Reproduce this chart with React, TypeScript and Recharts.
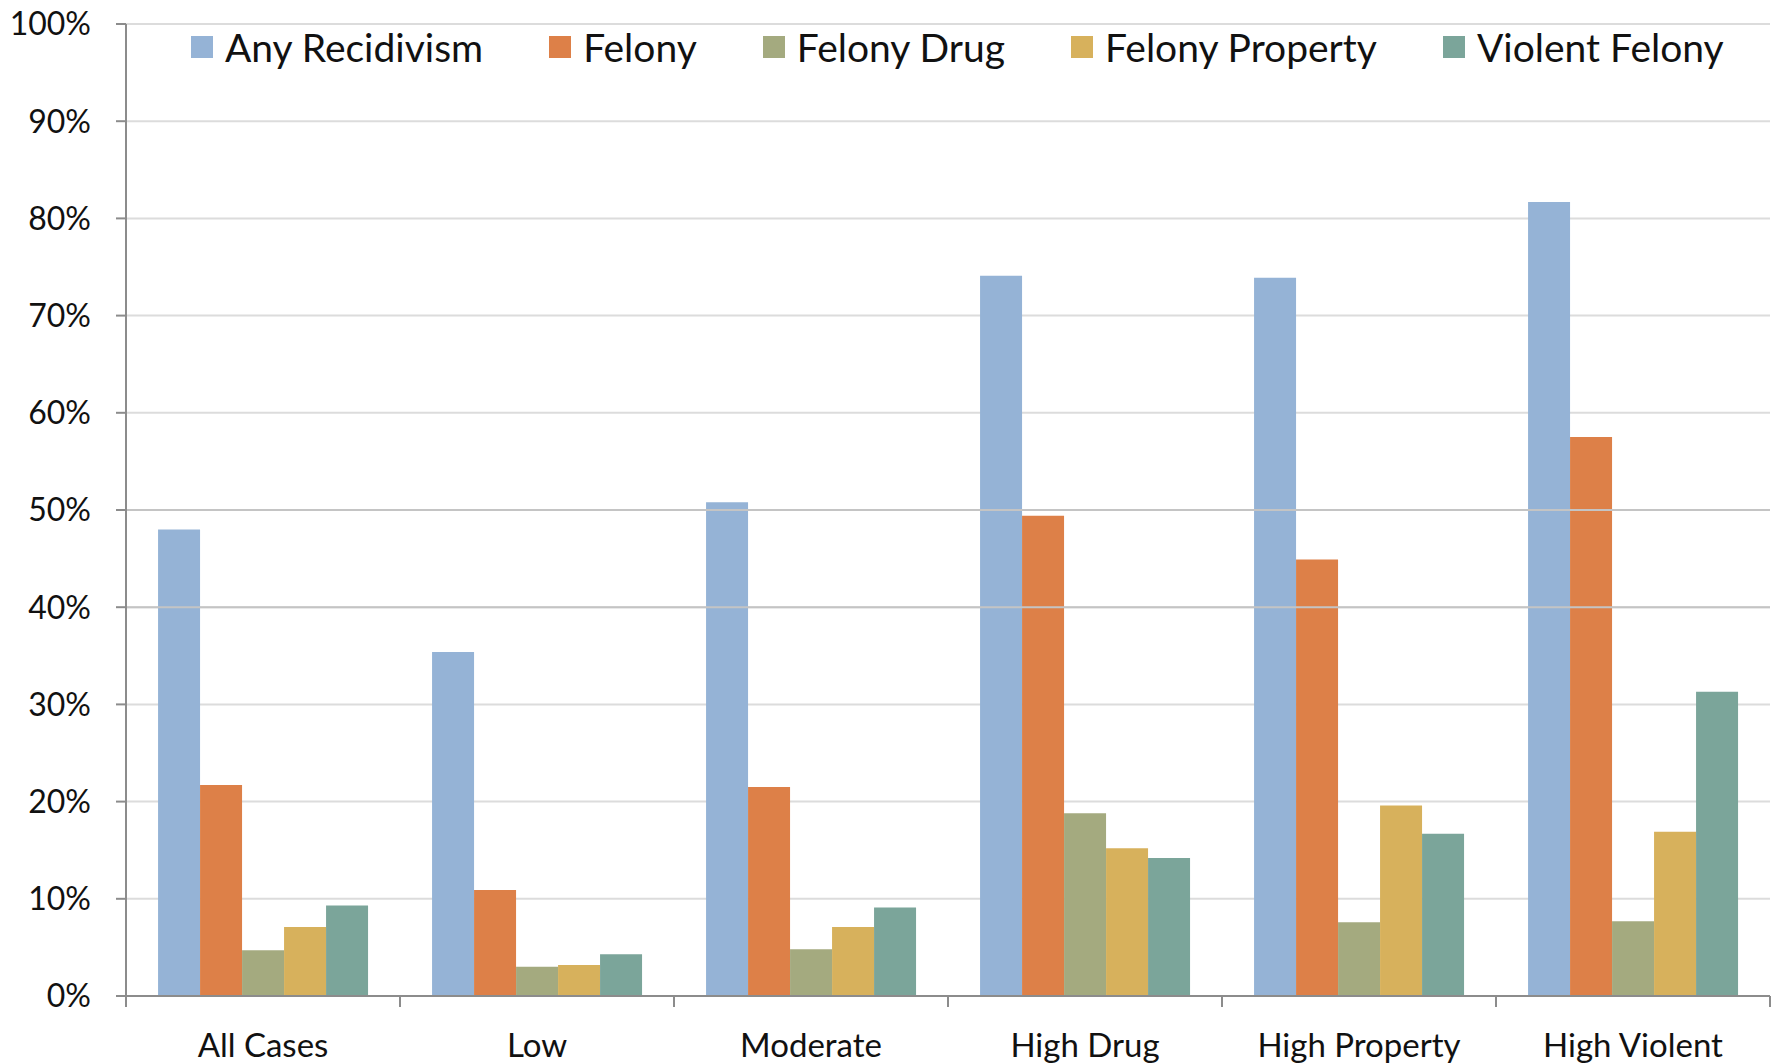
import React from "react";
import {
  BarChart,
  Bar,
  XAxis,
  YAxis,
  CartesianGrid,
  ReferenceLine,
} from "recharts";

const categories = ["All Cases", "Low", "Moderate", "High Drug", "High Property", "High Violent"];
const anyRecidivism = [48.0, 35.4, 50.8, 74.1, 73.9, 81.7];
const felony = [21.7, 10.9, 21.5, 49.4, 44.9, 57.5];
const felonyDrug = [4.7, 3.0, 4.8, 18.8, 7.6, 7.7];
const felonyProperty = [7.1, 3.2, 7.1, 15.2, 19.6, 16.9];
const violentFelony = [9.3, 4.3, 9.1, 14.2, 16.7, 31.3];
const yTicks = [0, 10, 20, 30, 40, 50, 60, 70, 80, 90, 100];

const SERIES = [
  { key: "any", name: "Any Recidivism", color: "#95B3D6" },
  { key: "felony", name: "Felony", color: "#DD8048" },
  { key: "drug", name: "Felony Drug", color: "#A4AA7F" },
  { key: "property", name: "Felony Property", color: "#D7B15C" },
  { key: "violent", name: "Violent Felony", color: "#7BA59A" },
];

const data = categories.map((c, i) => ({
  name: c,
  any: anyRecidivism[i],
  felony: felony[i],
  drug: felonyDrug[i],
  property: felonyProperty[i],
  violent: violentFelony[i],
}));

const FONT = "Lato, 'Open Sans', sans-serif";
const AXIS_GRAY = "#8C8C8C";

function CategoryTick(props: any) {
  const { x, y, payload, index } = props;
  const half = payload?.offset ?? 137;
  const top = y - 10;
  return (
    <g>
      <line x1={x - half} x2={x - half} y1={top} y2={top + 11} stroke={AXIS_GRAY} strokeWidth={2} />
      {index === categories.length - 1 && (
        <line x1={x + half} x2={x + half} y1={top} y2={top + 11} stroke={AXIS_GRAY} strokeWidth={2} />
      )}
      <text
        x={x}
        y={y + 38}
        textAnchor="middle"
        dominantBaseline="central"
        fontFamily={FONT}
        fontSize={33}
        fill="#111"
      >
        {payload.value}
      </text>
    </g>
  );
}

// legend sits on top of the plot area, so keep it out of recharts' layout
function LegendOverlay() {
  return (
    <div
      style={{
        position: "absolute",
        top: 26,
        left: 191,
        display: "flex",
        alignItems: "center",
        gap: 66,
        fontFamily: FONT,
        pointerEvents: "none",
      }}
    >
      {SERIES.map((s) => (
        <div key={s.key} style={{ display: "flex", alignItems: "center" }}>
          <span style={{ width: 22, height: 22, background: s.color, display: "inline-block", marginRight: 12 }} />
          <span style={{ fontSize: 39, color: "#111", lineHeight: "42px", whiteSpace: "nowrap" }}>{s.name}</span>
        </div>
      ))}
    </div>
  );
}

export default function App() {
  return (
    <div style={{ position: "absolute", left: 0, top: 0, width: 1779, height: 1064, background: "#fff" }}>
      <BarChart
        width={1779}
        height={1064}
        data={data}
        margin={{ top: 24, right: 9, left: 0, bottom: 0 }}
        barGap={0}
        barCategoryGap="11.7%"
      >
        <CartesianGrid horizontal vertical={false} stroke="#DCDCDC" strokeWidth={2} />
        <ReferenceLine y={40} stroke="#C4C4C4" strokeWidth={2} />
        <ReferenceLine y={50} stroke="#C4C4C4" strokeWidth={2} />
        <XAxis
          dataKey="name"
          height={68}
          tickLine={false}
          tickSize={10}
          tickMargin={0}
          axisLine={{ stroke: AXIS_GRAY, strokeWidth: 2 }}
          tick={<CategoryTick />}
          interval={0}
        />
        <YAxis
          width={126}
          domain={[0, 100]}
          ticks={yTicks}
          interval={0}
          tickFormatter={(v: number) => `${v}%`}
          tickSize={10}
          tickMargin={25}
          axisLine={{ stroke: AXIS_GRAY, strokeWidth: 2 }}
          tickLine={{ stroke: AXIS_GRAY, strokeWidth: 2 }}
          tick={{ fontFamily: FONT, fontSize: 32, fill: "#111" }}
        />
        {SERIES.map((s) => (
          <Bar key={s.key} dataKey={s.key} name={s.name} fill={s.color} isAnimationActive={false} />
        ))}
      </BarChart>
      <LegendOverlay />
    </div>
  );
}
